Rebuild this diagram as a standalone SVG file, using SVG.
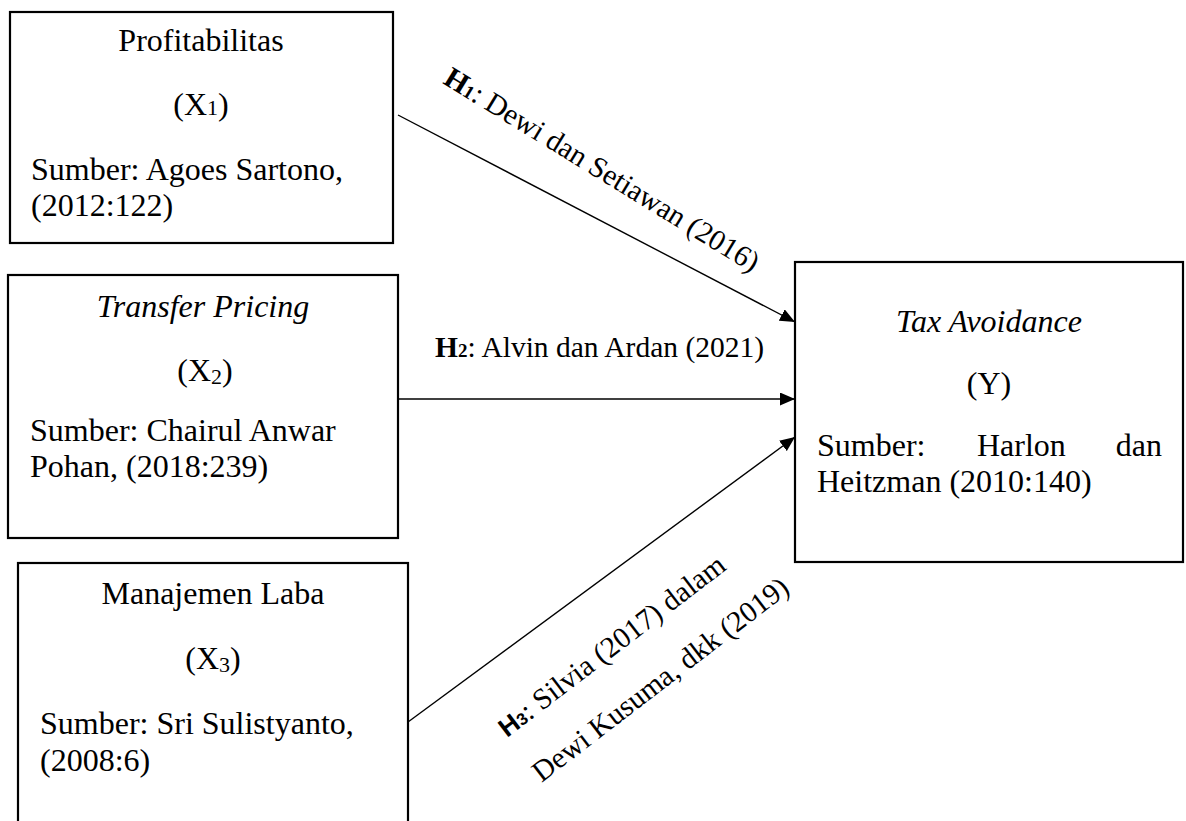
<svg xmlns="http://www.w3.org/2000/svg" width="1186" height="821" viewBox="0 0 1186 821">
<style>
.box{fill:#fff;stroke:#000;stroke-width:2.2}
.t{font-family:"Liberation Serif","Times New Roman",serif;font-size:32px;fill:#000}
.c{text-anchor:middle}
.i{font-style:italic}
.lbl{font-family:"Liberation Serif","Times New Roman",serif;font-size:29.5px;fill:#000}
.b{font-weight:bold}
.conn{stroke:#000;stroke-width:1.4;fill:none}
</style>
<defs>
<marker id="ah" markerUnits="userSpaceOnUse" markerWidth="16" markerHeight="13" refX="15" refY="6.5" orient="auto">
<path d="M0,0 L15,6.5 L0,13 Z" fill="#000"/>
</marker>
</defs>
<rect width="1186" height="821" fill="#fff"/>
<g id="connectors">
<line class="conn" x1="398" y1="115" x2="795" y2="322" marker-end="url(#ah)"/>
<line class="conn" x1="398" y1="399" x2="795" y2="399" marker-end="url(#ah)"/>
<line class="conn" x1="408" y1="722" x2="795" y2="437" marker-end="url(#ah)"/>
<text class="lbl" transform="translate(442,83) rotate(31.5)"><tspan class="b">H</tspan><tspan class="b" font-size="19">1</tspan>: Dewi dan Setiawan (2016)</text>
<text class="lbl" x="435" y="357"><tspan class="b">H</tspan><tspan class="b" font-size="19">2</tspan>: Alvin dan Ardan (2021)</text>
<g transform="translate(507,738) rotate(-37.5)">
<text class="lbl" x="0" y="0"><tspan class="b" font-family="Liberation Sans, Arial, sans-serif" font-size="26">H</tspan><tspan class="b" font-family="Liberation Sans, Arial, sans-serif" font-size="17">3</tspan>: Silvia (2017) dalam</text>
<text class="lbl" x="0" y="56.6">Dewi Kusuma, dkk (2019)</text>
</g>
</g>
<g id="x1">
<rect class="box" x="10" y="12" width="383" height="231"/>
<text class="t c" x="201" y="51">Profitabilitas</text>
<text class="t c" x="201" y="115">(X<tspan font-size="22">1</tspan>)</text>
<text class="t" x="31" y="180">Sumber: Agoes Sartono,</text>
<text class="t" x="31" y="216">(2012:122)</text>
</g>
<g id="x2">
<rect class="box" x="8" y="275" width="390" height="263"/>
<text class="t c i" x="203" y="317">Transfer Pricing</text>
<text class="t c" x="205" y="381">(X<tspan font-size="22" dy="3">2</tspan><tspan dy="-3">)</tspan></text>
<text class="t" x="30" y="441">Sumber: Chairul Anwar</text>
<text class="t" x="30" y="477">Pohan, (2018:239)</text>
</g>
<g id="x3">
<rect class="box" x="18" y="563" width="390" height="280"/>
<text class="t c" x="213" y="604">Manajemen Laba</text>
<text class="t c" x="213" y="669">(X<tspan font-size="22" dy="3">3</tspan><tspan dy="-3">)</tspan></text>
<text class="t" x="40" y="734">Sumber: Sri Sulistyanto,</text>
<text class="t" x="40" y="771">(2008:6)</text>
</g>
<g id="y">
<rect class="box" x="795" y="262" width="388" height="300"/>
<text class="t c i" x="989" y="332">Tax Avoidance</text>
<text class="t c" x="989" y="394">(Y)</text>
<text class="t" x="817" y="456">Sumber:</text>
<text class="t" x="977" y="456">Harlon</text>
<text class="t" x="1162" y="456" text-anchor="end">dan</text>
<text class="t" x="817" y="492">Heitzman (2010:140)</text>
</g>
</svg>
